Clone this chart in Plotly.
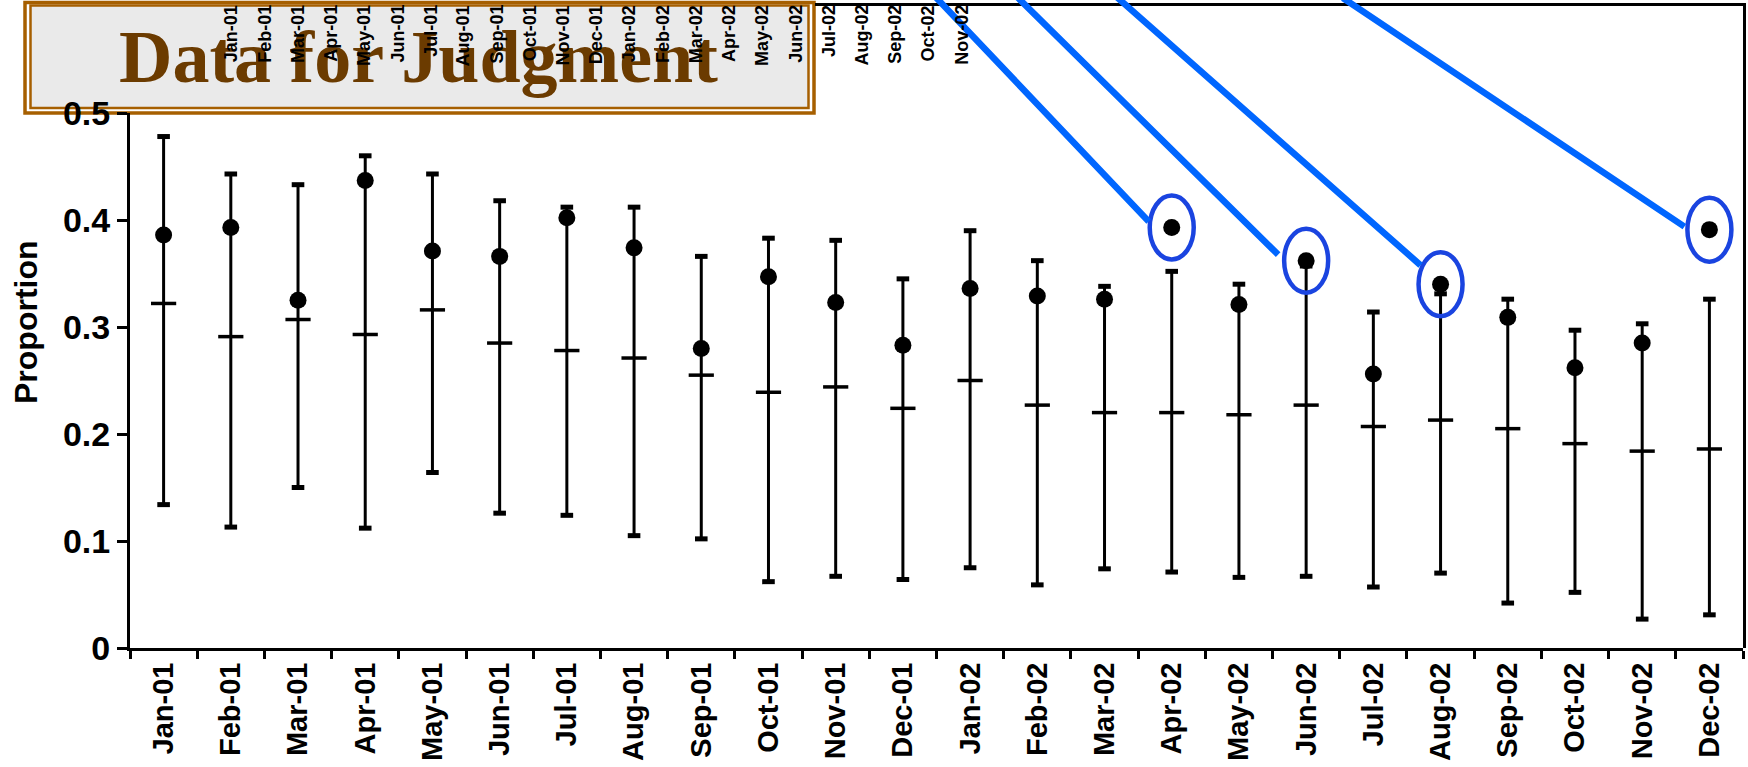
import plotly.graph_objects as go

# Monthly proportions with control limits
months = ["Jan-01", "Feb-01", "Mar-01", "Apr-01", "May-01", "Jun-01",
          "Jul-01", "Aug-01", "Sep-01", "Oct-01", "Nov-01", "Dec-01",
          "Jan-02", "Feb-02", "Mar-02", "Apr-02", "May-02", "Jun-02",
          "Jul-02", "Aug-02", "Sep-02", "Oct-02", "Nov-02", "Dec-02"]
observed = [0.386, 0.393, 0.325, 0.437, 0.371, 0.366, 0.402, 0.374, 0.280, 0.347, 0.323, 0.283,
            0.336, 0.329, 0.326, 0.393, 0.321, 0.362, 0.256, 0.340, 0.309, 0.262, 0.285, 0.391]
upper = [0.478, 0.443, 0.433, 0.460, 0.443, 0.418, 0.412, 0.412, 0.366, 0.383, 0.381, 0.345,
         0.390, 0.362, 0.338, 0.352, 0.340, 0.357, 0.314, 0.331, 0.326, 0.297, 0.303, 0.326]
center = [0.322, 0.291, 0.307, 0.293, 0.316, 0.285, 0.278, 0.271, 0.255, 0.239, 0.244, 0.224,
          0.250, 0.227, 0.220, 0.220, 0.218, 0.227, 0.207, 0.213, 0.205, 0.191, 0.184, 0.186]
lower = [0.134, 0.113, 0.150, 0.112, 0.164, 0.126, 0.124, 0.105, 0.102, 0.062, 0.067, 0.064,
         0.075, 0.059, 0.074, 0.071, 0.066, 0.067, 0.057, 0.070, 0.042, 0.052, 0.027, 0.031]
y_tickvals = [0, 0.1, 0.2, 0.3, 0.4, 0.5]
y_ticktext = ["0", "0.1", "0.2", "0.3", "0.4", "0.5"]
top_labels = months[:23]

# Figure geometry (pixels)
W, H = 1748, 767
ML, MR, MT, MB = 130, 5, 6, 119
PW, PH = W - ML - MR, H - MT - MB
PX_PER_UNIT = 1070.0


def paper_x(px):
    return (px - ML) / PW


def paper_y(py):
    return (H - MB - py) / PH


BOLD_SANS = "Liberation Sans"
BROWN = "#A65F00"

fig = go.Figure()

# Control limits: stem from lower to upper with a tick at the centre line
fig.add_trace(go.Scatter(
    x=months, y=center, mode="markers",
    marker=dict(symbol="line-ew-open", size=18, color="black", line=dict(width=3.5, color="black")),
    error_y=dict(type="data", symmetric=False,
                 array=[u - c for u, c in zip(upper, center)],
                 arrayminus=[c - l for c, l in zip(center, lower)],
                 thickness=3, width=0, color="black"),
    hoverinfo="skip",
))
# End caps of the limit bars
fig.add_trace(go.Scatter(
    x=months + months, y=upper + lower, mode="markers",
    marker=dict(symbol="line-ew-open", size=9, color="black", line=dict(width=5, color="black")),
    hoverinfo="skip",
))
# Observed proportions
fig.add_trace(go.Scatter(
    x=months, y=observed, mode="markers",
    marker=dict(symbol="circle", size=17, color="black"),
))
# Empty trace so the frame axes (top and right border) get their own subplot
fig.add_trace(go.Scatter(x=[], y=[], xaxis="x2", yaxis="y2", hoverinfo="skip"))

# Months above their upper limit get a circled callout
flagged = [i for i, (o, u) in enumerate(zip(observed, upper)) if o > u]
# (xshift, yshift, ax, ay) in pixels for each callout leader line
callout_geom = [(-23, 6, -216, -248), (-28, 6, -264, -281),
                (-20, 19, -322, -291), (-25, 3, -343, -253)]

shapes = [
    # double-ruled title panel
    dict(type="rect", xref="paper", yref="paper", layer="below",
         x0=paper_x(25), x1=paper_x(814), y0=paper_y(113), y1=paper_y(2.5),
         line=dict(color=BROWN, width=3.5), fillcolor="white"),
    dict(type="rect", xref="paper", yref="paper", layer="below",
         x0=paper_x(30.5), x1=paper_x(808.5), y0=paper_y(108), y1=paper_y(5.5),
         line=dict(color=BROWN, width=2.5), fillcolor="#EAEAEA"),
]
rx = 22 / (PW / len(months))
ry = 32 / PX_PER_UNIT
for i in flagged:
    shapes.append(dict(type="circle", xref="x", yref="y", layer="above",
                       x0=i - rx, x1=i + rx, y0=observed[i] - ry, y1=observed[i] + ry,
                       line=dict(color="#1A44E0", width=4.5)))

annotations = [
    dict(text="Data for Judgment", x=paper_x(418), y=paper_y(57), xref="paper", yref="paper",
         xanchor="center", yanchor="middle", showarrow=False,
         font=dict(family="Liberation Serif", size=74, weight="bold", color="#6B3B00")),
    dict(text="Proportion", x=paper_x(26), y=paper_y(322), xref="paper", yref="paper",
         xanchor="center", yanchor="middle", textangle=-90, showarrow=False,
         font=dict(family=BOLD_SANS, size=32, weight="bold", color="black")),
]
for i, (xs, ys, ax, ay) in zip(flagged, callout_geom):
    annotations.append(dict(
        text=" ", x=months[i], y=observed[i], xref="x", yref="y",
        xshift=xs, yshift=ys, ax=ax, ay=ay, showarrow=True, arrowhead=0,
        arrowwidth=6.5, arrowcolor="#0066FF", standoff=0, startstandoff=0,
        font=dict(size=1),
    ))
for i, lab in enumerate(top_labels):
    annotations.append(dict(
        text=lab, x=i, xref="x3", y=paper_y(3), yref="paper",
        xanchor="center", yanchor="top", textangle=-90, showarrow=False,
        font=dict(family=BOLD_SANS, size=18, weight="bold", color="black"),
    ))

fig.update_layout(
    width=W, height=H, autosize=False,
    margin=dict(l=ML, r=MR, t=MT, b=MB, pad=0, autoexpand=False),
    paper_bgcolor="white", plot_bgcolor="rgba(0,0,0,0)",
    showlegend=False,
    font=dict(family=BOLD_SANS, color="black"),
    xaxis=dict(
        type="category", categoryorder="array", categoryarray=months,
        range=[-0.5, len(months) - 0.5], domain=[0, 1], anchor="y",
        showline=True, linecolor="black", linewidth=3,
        ticks="outside", tickson="boundaries", ticklen=8, tickwidth=2.5, tickcolor="black",
        tickangle=-90, tickfont=dict(family=BOLD_SANS, size=29, weight="bold"),
        showgrid=False, zeroline=False,
    ),
    yaxis=dict(
        range=[0, 0.5], domain=[0, 0.5 * PX_PER_UNIT / PH], anchor="x",
        tickvals=y_tickvals, ticktext=y_ticktext,
        showline=True, linecolor="black", linewidth=3,
        ticks="outside", ticklen=10, tickwidth=2.5, tickcolor="black",
        tickfont=dict(family=BOLD_SANS, size=34, weight="bold"),
        showgrid=False, zeroline=False,
    ),
    # frame: top and right border lines
    xaxis2=dict(domain=[paper_x(815), 1], anchor="y2", side="top", range=[0, 1],
                showline=True, linecolor="black", linewidth=2.5,
                showticklabels=False, ticks="", showgrid=False, zeroline=False),
    yaxis2=dict(domain=[0, 1], anchor="x2", side="right", range=[0, 1],
                showline=True, linecolor="black", linewidth=2.5,
                showticklabels=False, ticks="", showgrid=False, zeroline=False),
    # compressed month scale for the labels along the top edge
    xaxis3=dict(domain=[paper_x(215.1), paper_x(1011.4)], range=[-0.5, 23.5],
                anchor="y", visible=False),
    shapes=shapes,
    annotations=annotations,
)

fig.write_html("out.html")
